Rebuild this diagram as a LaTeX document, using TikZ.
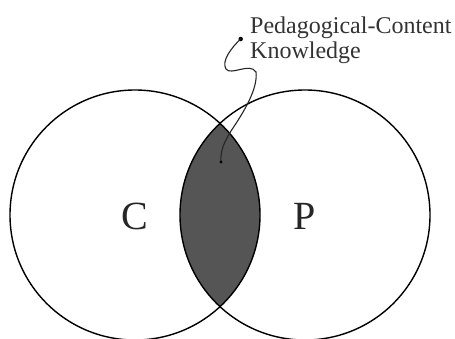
\documentclass[tikz,border=0pt]{standalone}
\usepackage{fontspec}
\setmainfont{Liberation Serif}
\begin{document}
\begin{tikzpicture}[x=1pt,y=-1pt,
  ring/.style={draw=black,line width=1.4pt},
  lens/.style={fill=lensgray},
  letter/.style={font=\fontsize{40}{44}\selectfont,text=black!85},
  caption/.style={font=\fontsize{24}{25}\selectfont,text=black!80,align=left,inner sep=0pt},
  wire/.style={draw=black!85,line width=1.1pt,line cap=round}]
\definecolor{lensgray}{HTML}{555555}
\useasboundingbox (0,0) rectangle (455,338);
\coordinate (cl) at (135,215);
\coordinate (cr) at (305,215);
\begin{scope}
  \clip (cl) circle (125);
  \fill[lens] (cr) circle (125);
\end{scope}
\draw[ring] (cl) circle (125);
\draw[ring] (cr) circle (125);
\node[letter] (C) at (135,216) {C};
\node[letter] (P) at (305,216) {P};
\node[caption,anchor=base west] (pck) at (250,58.5) {Pedagogical-Content\\Knowledge};
\node[circle,fill=black,inner sep=0pt,minimum size=4.5pt] (dot) at (240.7,39) {};
\coordinate (tip) at (221,162);
\draw[wire] (dot.center) .. controls (232,47) and (221,61) .. (226,69)
  .. controls (231,76) and (250,62) .. (256,72)
  .. controls (258,88) and (245,110) .. (233,128)
  .. controls (224,141) and (220,152) .. (tip);
\fill[black] (tip) circle (1.7);
\end{tikzpicture}
\end{document}
